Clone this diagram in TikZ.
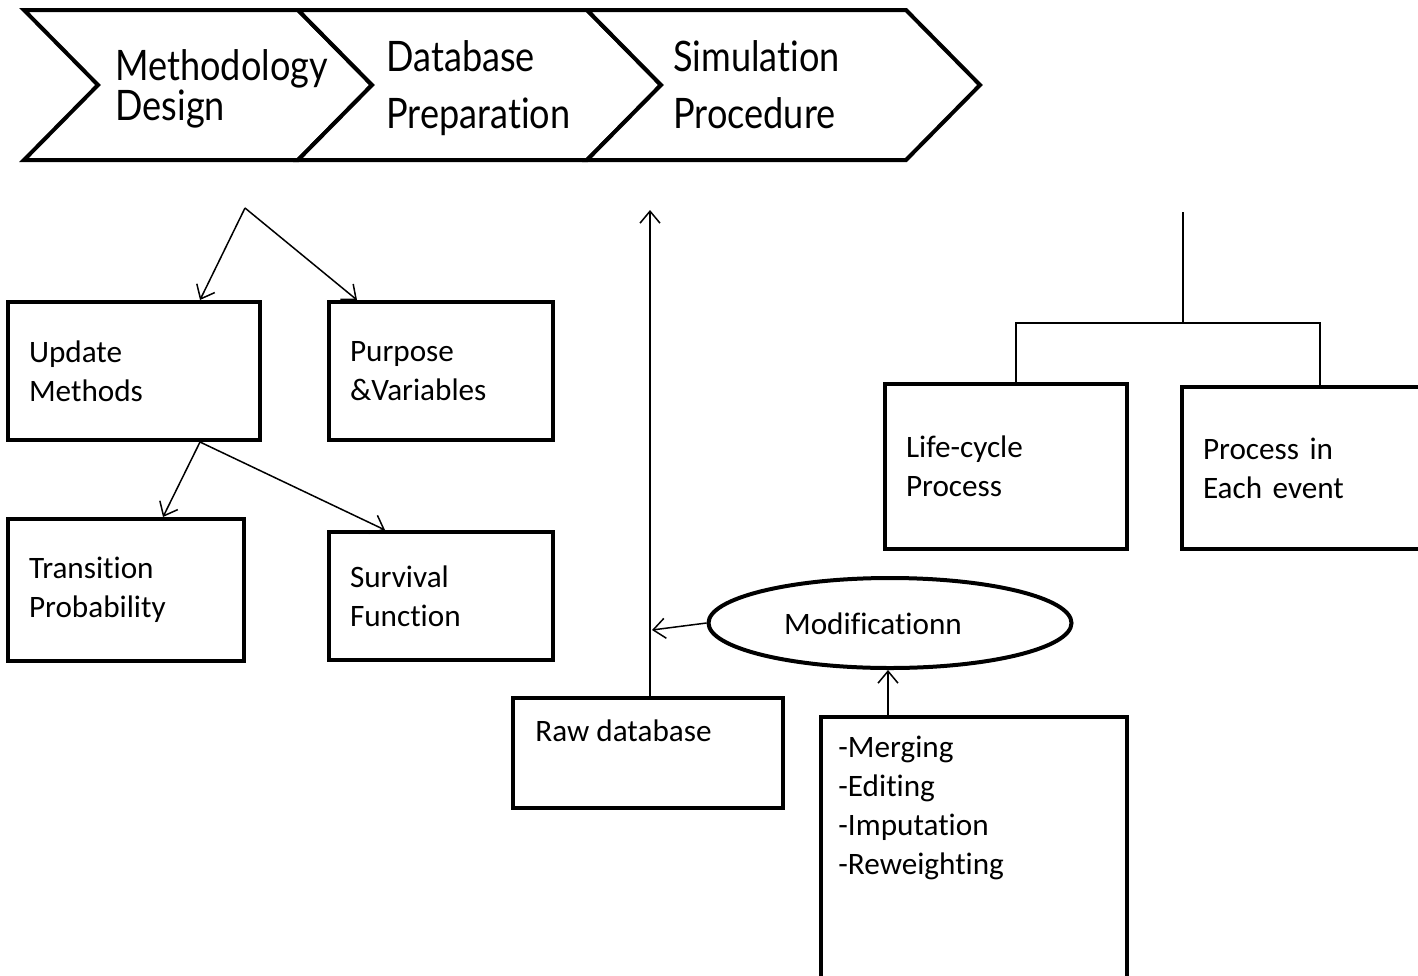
\documentclass[tikz,border=0pt]{standalone}
\usepackage{fontspec}
\setmainfont{Carlito}[RawFeature={-liga;-clig;-calt;-dlig}]
\newfontfamily\chevfont[FakeStretch=0.86,RawFeature={-liga;-clig}]{Lato}
\usetikzlibrary{arrows.meta,shapes.geometric,calc}
\begin{document}
\begin{tikzpicture}[x=0.5pt,y=-0.5pt,
  body/.style={font=\fontsize{15.6}{19.5}\selectfont},
  box/.style={draw, line width=2pt, inner xsep=10.5pt, inner ysep=0pt, align=left, body},
  chev/.style={draw, line width=2pt, line join=miter, fill=white},
  ctext/.style={font=\chevfont\fontsize{21}{25}\selectfont, inner sep=0pt, anchor=base west},
  txt/.style={body, inner sep=0pt, align=left},
  thin/.style={line width=0.75pt},
  arr/.style={thin, -{Straight Barb[length=6pt,width=10pt]}}]
\path[use as bounding box] (0,0) rectangle (1418,975);
\clip (0,0) rectangle (1418,975);
\fill[white] (0,0) rectangle (1418,975);

% chevrons
\draw[chev] (24,10) -- (298,10) -- (372,85) -- (298,160) -- (24,160) -- (98,85) -- cycle;
\draw[chev] (298,10) -- (587,10) -- (661,85) -- (587,160) -- (298,160) -- (372,85) -- cycle;
\draw[chev] (587,10) -- (906,10) -- (980,85) -- (906,160) -- (587,160) -- (661,85) -- cycle;
\node[ctext] (c1a) at (115,80) {Methodology};
\node[ctext] (c1b) at (115,120) {Design};
\node[ctext] (c2a) at (386,71) {Database};
\node[ctext] (c2b) at (386,128) {Preparation};
\node[ctext] (c3a) at (673,71) {Simulation};
\node[ctext] (c3b) at (673,128) {Procedure};

% left tree
\coordinate (s1) at (245,208);
\node[box, minimum width=126pt, minimum height=69pt, text width=105pt] (um) at (134,371) {Update\\Methods};
\node[box, minimum width=112pt, minimum height=69pt, text width=91pt] (pv) at (441,371) {Purpose\\\&Variables};
\node[box, minimum width=118pt, minimum height=71pt, text width=97pt] (tp) at (126,590) {Transition\\Probability};
\node[box, minimum width=112pt, minimum height=64pt, text width=91pt] (sf) at (441,596) {Survival\\Function};
\draw[arr] (s1) -- ($(um.north)+(66,0)$);
\draw[arr] (s1) -- ($(pv.north)+(-84,0)$);
\draw[arr] ($(um.south)+(66,0)$) -- ($(tp.north)+(37,0)$);
\draw[arr] ($(um.south)+(66,0)$) -- ($(sf.north)+(-56,0)$);

% middle
\node[box, minimum width=135pt, minimum height=55pt] (rd) at (648,753) {};
\node[txt, anchor=west] (rdt) at (535,731) {Raw database};
\coordinate (dp) at (650,210);
\draw[arr] ($(rd.north)+(2,0)$) -- (dp);
\node[draw, ellipse, line width=2pt, minimum width=181.5pt, minimum height=45pt, inner sep=0pt] (mod) at (890,623) {};
\node[txt] (modt) at (873,624) {Modificationn};
\coordinate (mj) at (652,630);
\draw[arr] (mod.west) -- (mj);
\node[box, minimum width=153pt, minimum height=131.5pt] (ml) at (974,848.5) {};
\node[txt, anchor=north west] (mlt) at (838,736) {-Merging\\-Editing\\-Imputation\\-Reweighting};
\draw[arr] ($(ml.north)+(-86,0)$) -- ($(mod.south)+(-2,0)$);

% right tree
\node[box, minimum width=121pt, minimum height=82.5pt, text width=100pt] (lc) at (1006,466.5) {Life-cycle\\Process};
\node[box, minimum width=120pt, minimum height=81pt, text width=99pt] (pe) at (1302,468) {Process in\\Each event};
\coordinate (st) at (1183,212);
\coordinate (jn) at (1183,323);
\draw[thin] (st) -- (jn);
\draw[thin] ($(lc.north)+(10,0)$) |- (jn) -| ($(pe.north)+(18,0)$);
\end{tikzpicture}
\end{document}
